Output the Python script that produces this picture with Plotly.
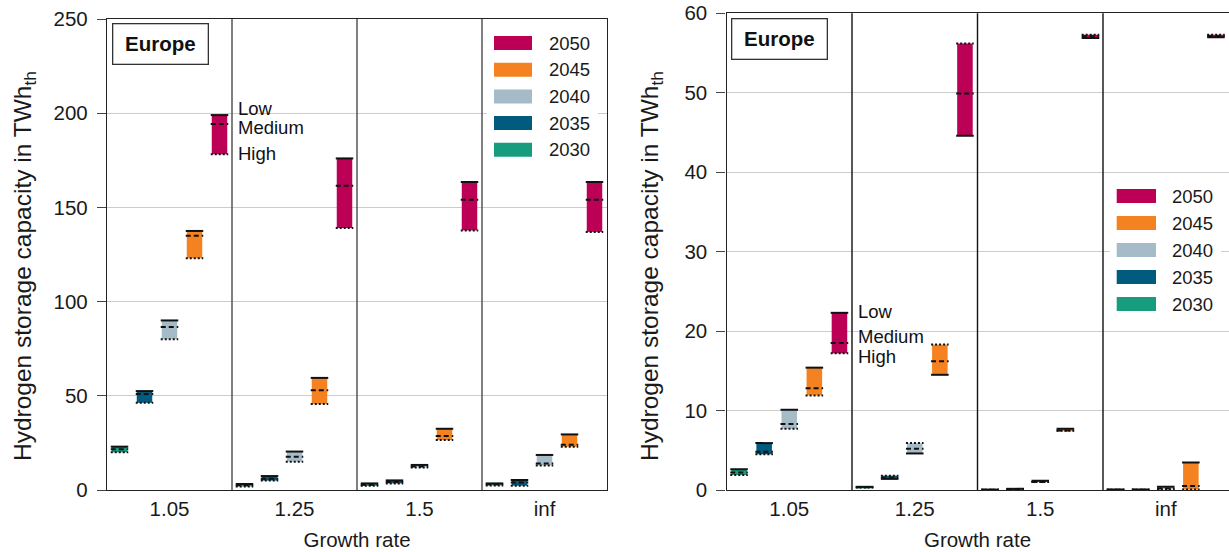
import plotly.graph_objects as go

W, H = 1229, 552

groups = ["1.05", "1.25", "1.5", "inf"]
years = ["2030", "2035", "2040", "2045", "2050"]
colors = ["#179C7D", "#005B7F", "#A6BBC8", "#F58220", "#BB0056"]
scenario_names = ["Low", "Medium", "High"]

# Left panel (scale 0-250 TWh_th); rows = years 2030..2050, cols = growth rates
left_low = [
    [23.0, 3.2, 3.5, 3.5],
    [52.5, 7.4, 5.1, 5.3],
    [90.0, 20.4, 13.3, 18.6],
    [137.5, 59.5, 32.5, 29.5],
    [199.0, 176.0, 163.5, 163.5],
]
left_medium = [
    [21.6, 2.5, 2.8, 3.0],
    [51.0, 6.0, 4.2, 4.0],
    [86.5, 17.7, 12.5, 14.0],
    [135.0, 53.0, 28.7, 24.0],
    [194.3, 161.5, 154.0, 154.0],
]
left_high = [
    [20.0, 1.9, 2.2, 2.4],
    [46.3, 5.0, 3.5, 2.3],
    [80.0, 15.0, 12.0, 13.0],
    [123.0, 45.6, 26.5, 23.0],
    [178.2, 139.0, 137.8, 137.0],
]

# Right panel (scale 0-60 TWh_th)
right_low = [
    [2.6, 0.40, 0.05, 0.05],
    [5.9, 1.40, 0.15, 0.05],
    [10.1, 4.6, 1.15, 0.42],
    [15.4, 14.5, 7.7, 3.45],
    [22.3, 44.6, 56.9, 57.0],
]
right_medium = [
    [2.2, 0.35, 0.03, 0.03],
    [4.8, 1.55, 0.10, 0.03],
    [8.3, 5.2, 1.0, 0.2],
    [12.8, 16.2, 7.5, 0.5],
    [18.5, 49.9, 57.1, 57.15],
]
right_high = [
    [1.9, 0.30, 0.02, 0.02],
    [4.5, 1.80, 0.10, 0.02],
    [7.7, 5.9, 1.0, 0.1],
    [11.9, 18.3, 7.45, 0.05],
    [17.2, 56.2, 57.3, 57.3],
]

y_title = "Hydrogen storage capacity in TWh<sub>th</sub>"
x_title = "Growth rate"

FONT = "Liberation Sans, Arial, Helvetica, sans-serif"
TXT = "#1a1a1a"
SLOT = 0.2
BAR_W = 0.124

fig = go.Figure()


def add_panel(low, med, high, xa, ya):
    for j, yr in enumerate(years):
        xs = [g + (j - 2) * SLOT for g in range(len(groups))]
        lo_b = [min(a, b, c) for a, b, c in zip(low[j], med[j], high[j])]
        hi_b = [max(a, b, c) for a, b, c in zip(low[j], med[j], high[j])]
        fig.add_trace(go.Bar(
            x=xs, y=[h - l for h, l in zip(hi_b, lo_b)], base=lo_b,
            width=BAR_W, marker=dict(color=colors[j], line=dict(width=0)),
            name=yr, showlegend=False, xaxis=xa, yaxis=ya,
        ))
    for vals, dash, name in [(high, "2px,2px", "High"), (med, "5px,3px", "Medium"), (low, "solid", "Low")]:
        lx, ly = [], []
        for j in range(len(years)):
            for g in range(len(groups)):
                xc = g + (j - 2) * SLOT
                lx += [xc - BAR_W / 2 - 0.008, xc + BAR_W / 2 + 0.008, None]
                ly += [vals[j][g], vals[j][g], None]
        fig.add_trace(go.Scatter(
            x=lx, y=ly, mode="lines", line=dict(color="#111111", width=2, dash=dash),
            name=name, showlegend=False, xaxis=xa, yaxis=ya, hoverinfo="skip",
        ))


add_panel(left_low, left_medium, left_high, "x", "y")
add_panel(right_low, right_medium, right_high, "x2", "y2")

y_bot = (H - 490) / H
L_top = (H - 19) / H
R_top = (H - 13.3) / H

common_x = dict(range=[-0.5, 3.5], tickvals=list(range(len(groups))), ticktext=groups,
                showline=True, linecolor="#222222", linewidth=1.3, mirror=True,
                ticks="", showgrid=False, zeroline=False, automargin=False,
                tickfont=dict(size=20.5, color=TXT),
                title=dict(text=x_title, font=dict(size=20.5, color=TXT), standoff=13))
common_y = dict(showline=True, linecolor="#222222", linewidth=1.3, mirror=True,
                ticks="outside", ticklen=9, tickwidth=1.3, tickcolor="#444444",
                showgrid=True, gridcolor="#cccccc", gridwidth=1, zeroline=False,
                automargin=False, ticklabelstandoff=5,
                tickfont=dict(size=20.5, color=TXT))

fig.update_layout(
    width=W, height=H,
    margin=dict(l=0, r=0, t=0, b=0, autoexpand=False),
    paper_bgcolor="white", plot_bgcolor="white",
    font=dict(family=FONT, color=TXT),
    barmode="overlay", showlegend=False,
    xaxis=dict(domain=[107 / W, 607 / W], anchor="y", **common_x),
    yaxis=dict(domain=[y_bot, L_top], anchor="x", range=[0, 250], dtick=50, **common_y),
    xaxis2=dict(domain=[726.5 / W, 1228.5 / W], anchor="y2", **common_x),
    yaxis2=dict(domain=[y_bot, R_top], anchor="x2", range=[0, 60], dtick=10, **common_y),
)


def px_x(v):
    return v / W


def px_y(v):
    return 1 - v / H


shapes = []
annotations = []

# y-axis titles
for xc in [25, 652]:
    annotations.append(dict(text=y_title, xref="paper", yref="paper", x=px_x(xc), y=px_y(266),
                            xanchor="center", yanchor="middle", textangle=-90, showarrow=False,
                            font=dict(size=24.5, color=TXT)))

# group dividers
for xa, ya, col in [("x", "y", "#4a4a4a"), ("x2", "y2", "#111111")]:
    for k in range(1, len(groups)):
        shapes.append(dict(type="line", xref=xa, yref=ya + " domain", x0=k - 0.5, x1=k - 0.5,
                           y0=0, y1=1, line=dict(color=col, width=1.4), layer="above"))

# Europe boxes
for xa, ya, dx, dy in [("x", "y", 0.0094, 0.992), ("x2", "y2", 0.0084, 0.99)]:
    annotations.append(dict(text="<b>Europe</b>", xref=xa + " domain", yref=ya + " domain",
                            x=dx, y=dy, xanchor="left", yanchor="top", showarrow=False,
                            font=dict(size=20.5, color="#111111"), bordercolor="#333333",
                            borderwidth=1.3, borderpad=0, width=94, height=39, bgcolor="white"))

# Low / Medium / High labels next to the 1.05 / 2050 bar
lab_x = 0.4 + BAR_W / 2 + 0.072
for xa, ya, low, med, high, shifts in [
    ("x", "y", left_low, left_medium, left_high, [7, -4, 1]),
    ("x2", "y2", right_low, right_medium, right_high, [1, 6.5, -3.5]),
]:
    for name, vals, s in zip(scenario_names, [low, med, high], shifts):
        annotations.append(dict(text=name, xref=xa, yref=ya, x=lab_x, y=vals[-1][0],
                                xanchor="left", yanchor="middle", yshift=s, showarrow=False,
                                font=dict(size=18.5, color="#111111")))

# Legends (drawn manually: white box, colour patches, year labels)
for (bx0, bx1, by0, by1, rx0, rx1, tx, y_first, step) in [
    (487, 598, 26, 168, 494, 532, 547, 43.0, 26.7),
    (1110, 1221, 180, 318, 1116.7, 1156, 1170, 196.0, 27.0),
]:
    shapes.append(dict(type="rect", xref="paper", yref="paper", x0=px_x(bx0), x1=px_x(bx1),
                       y0=px_y(by1), y1=px_y(by0), fillcolor="white", line=dict(width=0),
                       layer="above"))
    for i, j in enumerate(reversed(range(len(years)))):
        yc = y_first + i * step
        shapes.append(dict(type="rect", xref="paper", yref="paper", x0=px_x(rx0), x1=px_x(rx1),
                           y0=px_y(yc + 7), y1=px_y(yc - 7), fillcolor=colors[j],
                           line=dict(width=0), layer="above"))
        annotations.append(dict(text=years[j], xref="paper", yref="paper", x=px_x(tx),
                                y=px_y(yc), xanchor="left", yanchor="middle", showarrow=False,
                                font=dict(size=18.5, color=TXT)))

fig.update_layout(shapes=shapes, annotations=annotations)
fig.write_html("out.html", config={"displayModeBar": False},
               post_script="document.body.style.margin='0';document.body.style.padding='0';")
